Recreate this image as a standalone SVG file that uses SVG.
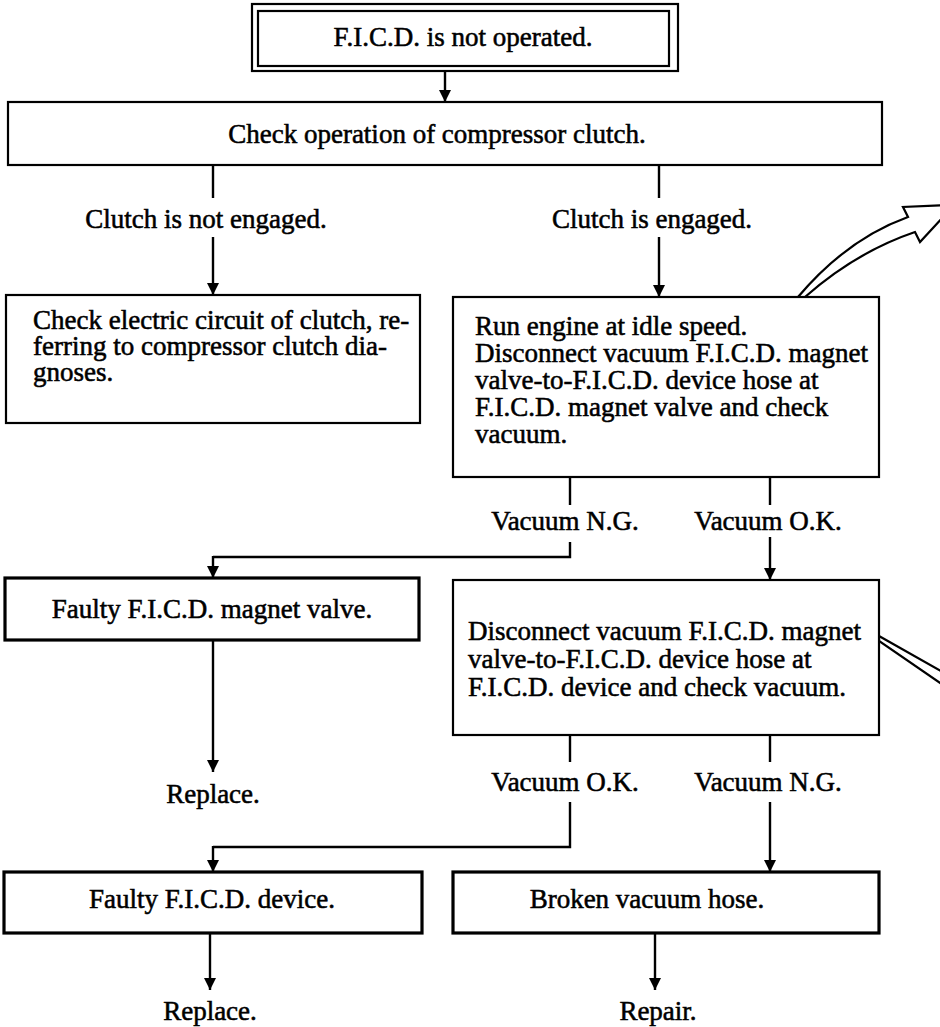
<svg xmlns="http://www.w3.org/2000/svg" width="940" height="1027" viewBox="0 0 940 1027">
  <defs>
    <style>
      .box { fill: #fff; stroke: #000; stroke-width: 2.2; }
      .heavy { fill: #fff; stroke: #000; stroke-width: 3.2; }
      .t { font-family: "Liberation Serif", "Times New Roman", serif; font-size: 27px; fill: #000; stroke: #000; stroke-width: 0.55; }
      .c { text-anchor: middle; }
      .wire { fill: none; stroke: #000; stroke-width: 2.4; }
      .arr { fill: none; stroke: #000; stroke-width: 2.4; marker-end: url(#head); }
      .hollow { fill: #fff; stroke: #000; stroke-width: 2.2; stroke-linejoin: miter; }
    </style>
    <marker id="head" viewBox="0 0 12 16" refX="12" refY="8" markerWidth="12" markerHeight="16" markerUnits="userSpaceOnUse" orient="auto">
      <path d="M0,2 L12,8 L0,14 Z" fill="#000"/>
    </marker>
  </defs>

  <rect width="940" height="1027" fill="#fff"/>

  <!-- connectors -->
  <g id="connectors">
    <line class="arr" x1="445" y1="71" x2="445" y2="102"/>

    <line class="wire" x1="213" y1="165" x2="213" y2="198"/>
    <line class="arr" x1="213" y1="237" x2="213" y2="295"/>
    <line class="wire" x1="659" y1="165" x2="659" y2="198"/>
    <line class="arr" x1="659" y1="237" x2="659" y2="297"/>

    <line class="wire" x1="570" y1="477" x2="570" y2="505"/>
    <polyline class="wire" points="570,542 570,557 213,557"/>
    <line class="arr" x1="213" y1="556" x2="213" y2="578"/>
    <line class="wire" x1="770" y1="477" x2="770" y2="505"/>
    <line class="arr" x1="770" y1="537" x2="770" y2="580"/>

    <line class="arr" x1="213" y1="640" x2="213" y2="772"/>

    <line class="wire" x1="570" y1="735" x2="570" y2="762"/>
    <polyline class="wire" points="570,802 570,847 213,847"/>
    <line class="arr" x1="213" y1="846" x2="213" y2="872"/>
    <line class="wire" x1="770" y1="735" x2="770" y2="762"/>
    <line class="arr" x1="770" y1="802" x2="770" y2="872"/>

    <line class="arr" x1="210" y1="933" x2="210" y2="990"/>
    <line class="arr" x1="655" y1="933" x2="655" y2="990"/>

    <!-- outlined arrows leading off to the right -->
    <path class="hollow" d="M798,297 Q847,239 908,217 L903,207 L946,205 L946,214 L920,242 L915,232 Q856,252 805,297 Z"/>
    <path class="hollow" d="M879,636 L946,674 L946,687 L879,641 Z"/>
  </g>

  <!-- start -->
  <g id="n-start">
    <rect class="box" x="252" y="4" width="426" height="67"/>
    <rect class="box" x="258" y="11" width="411" height="55"/>
    <text class="t c" x="463" y="46">F.I.C.D. is not operated.</text>
  </g>

  <g id="n-check-clutch">
    <rect class="box" x="8" y="102" width="874" height="63"/>
    <text class="t c" x="437" y="143">Check operation of compressor clutch.</text>
  </g>

  <g id="l-not-engaged">
    <text class="t c" x="206" y="228">Clutch is not engaged.</text>
  </g>
  <g id="l-engaged">
    <text class="t c" x="652" y="228">Clutch is engaged.</text>
  </g>

  <g id="n-electric">
    <rect class="box" x="6" y="295" width="414" height="128"/>
    <text class="t" x="33" y="329">Check electric circuit of clutch, re-</text>
    <text class="t" x="33" y="355">ferring to compressor clutch dia-</text>
    <text class="t" x="33" y="381">gnoses.</text>
  </g>

  <g id="n-idle">
    <rect class="box" x="453" y="297" width="426" height="180"/>
    <text class="t" x="475" y="335">Run engine at idle speed.</text>
    <text class="t" x="475" y="362">Disconnect vacuum F.I.C.D. magnet</text>
    <text class="t" x="475" y="389">valve-to-F.I.C.D. device hose at</text>
    <text class="t" x="475" y="416">F.I.C.D. magnet valve and check</text>
    <text class="t" x="475" y="443">vacuum.</text>
  </g>

  <g id="l-vac-ng-1">
    <text class="t c" x="565" y="530">Vacuum N.G.</text>
  </g>
  <g id="l-vac-ok-1">
    <text class="t c" x="768" y="530">Vacuum O.K.</text>
  </g>

  <g id="n-faulty-valve">
    <rect class="heavy" x="5" y="578" width="414" height="62"/>
    <text class="t c" x="212" y="618">Faulty F.I.C.D. magnet valve.</text>
  </g>
  <g id="r-replace-1">
    <text class="t c" x="213" y="803">Replace.</text>
  </g>

  <g id="n-device-check">
    <rect class="box" x="453" y="580" width="426" height="155"/>
    <text class="t" x="468" y="640">Disconnect vacuum F.I.C.D. magnet</text>
    <text class="t" x="468" y="668">valve-to-F.I.C.D. device hose at</text>
    <text class="t" x="468" y="696">F.I.C.D. device and check vacuum.</text>
  </g>

  <g id="l-vac-ok-2">
    <text class="t c" x="565" y="791">Vacuum O.K.</text>
  </g>
  <g id="l-vac-ng-2">
    <text class="t c" x="768" y="791">Vacuum N.G.</text>
  </g>

  <g id="n-faulty-device">
    <rect class="heavy" x="4" y="872" width="418" height="61"/>
    <text class="t c" x="212" y="908">Faulty F.I.C.D. device.</text>
  </g>
  <g id="n-broken-hose">
    <rect class="heavy" x="453" y="872" width="426" height="61"/>
    <text class="t c" x="647" y="908">Broken vacuum hose.</text>
  </g>

  <g id="r-replace-2">
    <text class="t c" x="210" y="1020">Replace.</text>
  </g>
  <g id="r-repair">
    <text class="t c" x="658" y="1020">Repair.</text>
  </g>
</svg>
